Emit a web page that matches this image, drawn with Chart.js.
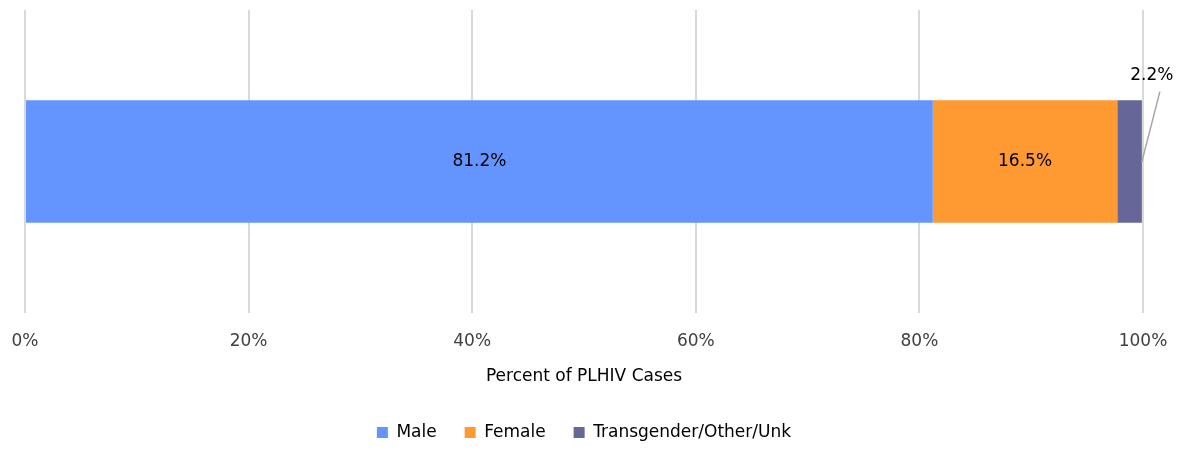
<!DOCTYPE html>
<html>
<head>
<meta charset="utf-8">
<script src="https://cdn.jsdelivr.net/npm/chart.js@4"></script>
<style>
  body { margin: 0; background: #fff; }
  #wrap { width: 1190px; height: 451px; }
</style>
</head>
<body>
<div id="wrap"><canvas id="grafico" width="1190" height="451"></canvas></div>
<script>
// DADOS
const categorias = ["PLHIV"];
const grupos = ["Male", "Female", "Transgender/Other/Unk"];
const male = [81.2];
const female = [16.5];
const trans = [2.2];
const cores = ["#6495FF", "#FF9A33", "#666699"];

const fonte = "DejaVu Sans, Verdana, sans-serif";

// RÓTULOS
const rotulos = {
    id: "rotulos",
    afterDatasetsDraw(chart) {
        const ctx = chart.ctx;
        ctx.save();
        ctx.font = "17px " + fonte;
        ctx.fillStyle = "#000";
        ctx.textAlign = "center";
        ctx.textBaseline = "middle";
        chart.data.datasets.forEach((ds, i) => {
            const meta = chart.getDatasetMeta(i);
            meta.data.forEach((bar, j) => {
                const v = ds.data[j];
                const txt = v.toFixed(1) + "%";
                if (v > 5) {
                    ctx.fillText(txt, (bar.base + bar.x) / 2, bar.y);
                } else {
                    // linha guia
                    const ax = bar.x;
                    const ay = bar.y;
                    ctx.strokeStyle = "#a6a6a6";
                    ctx.lineWidth = 1.5;
                    ctx.beginPath();
                    ctx.moveTo(ax, ay);
                    ctx.lineTo(ax + 18, ay - 70);
                    ctx.stroke();
                    ctx.fillText(txt, ax + 10, ay - 86);
                }
            });
        });
        ctx.restore();
    }
};

new Chart(document.getElementById("grafico").getContext("2d"), {
    type: "bar",
    data: {
        labels: categorias,
        datasets: [
            { label: grupos[0], data: male, backgroundColor: cores[0] },
            { label: grupos[1], data: female, backgroundColor: cores[1] },
            { label: grupos[2], data: trans, backgroundColor: cores[2] }
        ]
    },
    options: {
        indexAxis: "y",
        responsive: false,
        animation: false,
        layout: { padding: { left: 25, right: 47, top: 10, bottom: 0 } },
        datasets: { bar: { barPercentage: 0.404, categoryPercentage: 1, borderWidth: 0 } },
        scales: {
            x: {
                stacked: true,
                min: 0,
                max: 100,
                ticks: {
                    stepSize: 20,
                    callback: v => v + "%",
                    color: "#404040",
                    font: { size: 17, family: fonte },
                    padding: 0
                },
                grid: { color: "#d9d9d9", lineWidth: 2, drawTicks: true, tickLength: 18, tickColor: "rgba(0,0,0,0)" },
                border: { display: false },
                title: {
                    display: true,
                    text: "Percent of PLHIV Cases",
                    color: "#000",
                    font: { size: 17, family: fonte },
                    padding: { top: 15, bottom: 9 }
                }
            },
            y: {
                stacked: true,
                display: false
            }
        },
        plugins: {
            legend: {
                position: "bottom",
                labels: {
                    boxWidth: 11,
                    boxHeight: 11,
                    padding: 28,
                    color: "#000",
                    font: { size: 17, family: fonte }
                }
            },
            tooltip: { enabled: false }
        }
    },
    plugins: [rotulos]
});
</script>
</body>
</html>
